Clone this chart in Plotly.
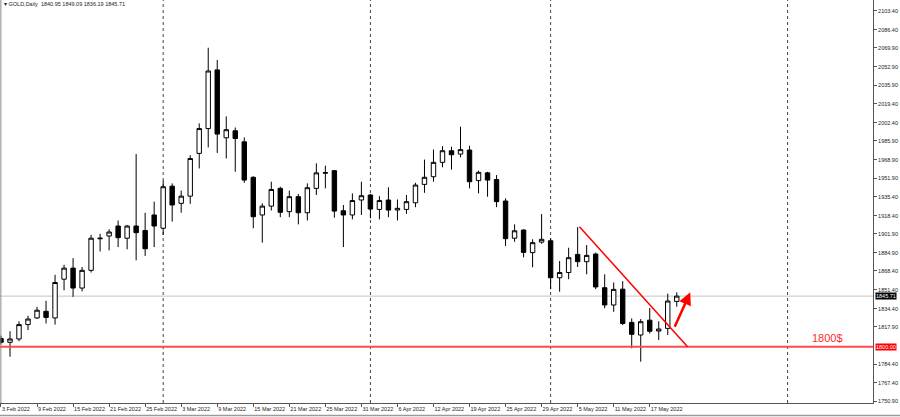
import plotly.graph_objects as go

# GOLD daily bars, 3 Feb 2022 - 20 May 2022 (one bar per trading day)
dates = ["2022-02-03", "2022-02-04", "2022-02-07", "2022-02-08", "2022-02-09", "2022-02-10",
         "2022-02-11", "2022-02-14", "2022-02-15", "2022-02-16", "2022-02-17", "2022-02-18",
         "2022-02-21", "2022-02-22", "2022-02-23", "2022-02-24", "2022-02-25", "2022-02-28",
         "2022-03-01", "2022-03-02", "2022-03-03", "2022-03-04", "2022-03-07", "2022-03-08",
         "2022-03-09", "2022-03-10", "2022-03-11", "2022-03-14", "2022-03-15", "2022-03-16",
         "2022-03-17", "2022-03-18", "2022-03-21", "2022-03-22", "2022-03-23", "2022-03-24",
         "2022-03-25", "2022-03-28", "2022-03-29", "2022-03-30", "2022-03-31",
         "2022-04-01", "2022-04-04", "2022-04-05", "2022-04-06", "2022-04-07", "2022-04-08",
         "2022-04-11", "2022-04-12", "2022-04-13", "2022-04-14", "2022-04-18", "2022-04-19",
         "2022-04-20", "2022-04-21", "2022-04-22", "2022-04-25", "2022-04-26", "2022-04-27",
         "2022-04-28", "2022-04-29",
         "2022-05-02", "2022-05-03", "2022-05-04", "2022-05-05", "2022-05-06", "2022-05-09",
         "2022-05-10", "2022-05-11", "2022-05-12", "2022-05-13", "2022-05-16", "2022-05-17",
         "2022-05-18", "2022-05-19", "2022-05-20"]

opens = [1807.5, 1804, 1807, 1820, 1826, 1832, 1826, 1861, 1871, 1853,
         1869, 1897.5, 1900, 1909, 1898, 1909, 1905, 1919, 1907, 1945,
         1929.5, 1936, 1974.6, 1997, 2050, 1988.7, 1995, 1985, 1953, 1919,
         1927, 1943, 1922, 1935.5, 1921, 1943, 1957.3, 1959, 1922.8, 1919,
         1932.5, 1937, 1924, 1932.5, 1923.5, 1924, 1930, 1946.6, 1953.5, 1966.5,
         1977, 1974, 1977.6, 1950, 1957, 1951, 1931.6, 1898, 1905.4, 1885,
         1894.5, 1895.7, 1862.3, 1867, 1883.4, 1876.8, 1883.7, 1853.3, 1837.7, 1852,
         1822, 1810.6, 1824, 1814.2, 1816.6, 1840.95]
highs = [1810, 1814, 1823, 1828, 1836, 1841.5, 1865, 1874, 1880, 1872,
         1901, 1902, 1906, 1914, 1910, 1974, 1921, 1931, 1950, 1947.5,
         1941, 1973, 2001.7, 2070, 2059, 2008, 1998, 1989, 1954, 1929.5,
         1949, 1944.5, 1941, 1938, 1947.5, 1965.6, 1963.5, 1959.6, 1928, 1938.5,
         1949, 1938, 1936, 1944, 1933, 1937, 1948, 1969, 1978, 1981,
         1980.6, 1998.7, 1981.5, 1959, 1958, 1955, 1934, 1910.5, 1906, 1897,
         1919.8, 1898, 1877.4, 1889.4, 1908, 1891.8, 1885, 1865.4, 1858, 1859.3,
         1825.6, 1825, 1835, 1823, 1848, 1849.09]
lows = [1802, 1791, 1805, 1815, 1825, 1821, 1820, 1851, 1845, 1850,
        1867, 1886, 1887, 1890, 1888, 1878, 1882, 1890, 1901, 1913,
        1921, 1929, 1961, 1980, 1975, 1970, 1958, 1948, 1907, 1894,
        1923, 1917, 1917, 1910.5, 1914, 1937, 1943, 1916.5, 1890, 1915,
        1919, 1916, 1915, 1917, 1914, 1920, 1926, 1939, 1949, 1962,
        1960, 1971, 1943, 1938.5, 1935.5, 1926, 1891, 1894.8, 1880.7, 1871.7,
        1893, 1852, 1849.7, 1861, 1872, 1865.4, 1852, 1834.7, 1831.6, 1819.6,
        1798.6, 1786.5, 1812, 1806, 1810.6, 1836.19]
closes = [1804, 1807, 1820, 1825, 1833, 1826.5, 1858, 1871, 1853, 1869,
          1898, 1898, 1903.6, 1898.5, 1909, 1903, 1888.5, 1909, 1944.5, 1928,
          1936, 1970, 1997, 2049, 1992, 1996, 1988, 1950.5, 1917.4, 1927,
          1942, 1921.4, 1935.5, 1921, 1943.6, 1957, 1956.8, 1922.5, 1919, 1932,
          1936.4, 1924.3, 1932, 1923.4, 1925, 1931, 1946, 1953, 1966.5, 1977,
          1973.4, 1978, 1949, 1957.5, 1950.5, 1931, 1897.6, 1904.7, 1885.2, 1894,
          1897, 1862.3, 1867, 1880.4, 1876.8, 1882.5, 1854, 1837.7, 1851.8, 1821,
          1811.2, 1822.6, 1814, 1816, 1841.3, 1845.71]

y_ticks = [2103.40, 2086.40, 2069.90, 2052.90, 2035.90, 2019.40, 2002.40, 1985.90,
           1968.90, 1951.90, 1935.40, 1918.40, 1901.90, 1884.90, 1868.40, 1851.40,
           1834.40, 1817.90, 1784.40, 1767.40, 1750.90]

separators = [18, 41, 61, 87.3]          # month separators (bar index)
support = 1800.00
last_price = 1845.71
trend_x = [64.2, 76.2]
trend_y = [1908.4, 1800.0]
arrow_x = [74.7, 76.5]
arrow_y = [1816.6, 1849.1]

MONTHS = ["Jan", "Feb", "Mar", "Apr", "May", "Jun"]
def fmt(d):
    y, m, dd = d.split("-")
    return f"{int(dd)} {MONTHS[int(m) - 1]} {y}"

idx = list(range(len(dates)))
tick_idx = idx[::4]
tick_txt = [fmt(dates[i]) for i in tick_idx]

FONT = "Liberation Sans"

fig = go.Figure()
fig.add_trace(go.Candlestick(
    x=idx, open=opens, high=highs, low=lows, close=closes,
    increasing=dict(line=dict(color="black", width=1), fillcolor="white"),
    decreasing=dict(line=dict(color="black", width=1), fillcolor="black"),
    whiskerwidth=0, hoverinfo="skip", showlegend=False,
))

shapes = []
for s in separators:
    shapes.append(dict(type="line", xref="x", yref="paper", x0=s, x1=s, y0=0, y1=1,
                       line=dict(color="#444444", width=1, dash="dot"), layer="below"))
shapes.append(dict(type="line", xref="paper", yref="y", x0=0, x1=1, y0=last_price, y1=last_price,
                   line=dict(color="#c4c4c4", width=1), layer="below"))
shapes.append(dict(type="line", xref="paper", yref="y", x0=0, x1=1, y0=support, y1=support,
                   line=dict(color="#ff4b4b", width=2)))
shapes.append(dict(type="line", xref="x", yref="y", x0=trend_x[0], x1=trend_x[1],
                   y0=trend_y[0], y1=trend_y[1], line=dict(color="#ff0000", width=1.5)))
shapes.append(dict(type="line", xref="paper", yref="paper", x0=0.001, x1=0.001, y0=0, y1=1,
                   line=dict(color="#888888", width=1)))
shapes.append(dict(type="line", xref="paper", yref="paper", x0=0, x1=1.04, y0=-0.031, y1=-0.031,
                   line=dict(color="#9a9a9a", width=1.5)))

annotations = [
    dict(x=arrow_x[1], y=arrow_y[1], ax=arrow_x[0], ay=arrow_y[0], xref="x", yref="y",
         axref="x", ayref="y", showarrow=True, arrowhead=2, arrowsize=1, arrowwidth=2.5,
         arrowcolor="#ff0000", text=""),
    dict(x=91.7, y=support, xref="x", yref="y", text="1800$", showarrow=False,
         yanchor="bottom", yshift=1, font=dict(family=FONT, size=11, color="#ff2a2a")),
    dict(x=1, y=support, xref="paper", yref="y", text="1800.00", showarrow=False,
         xanchor="left", xshift=2, bgcolor="#ff0000", borderpad=0,
         font=dict(family=FONT, size=5.5, color="white")),
    dict(x=1, y=last_price, xref="paper", yref="y", text="1845.71", showarrow=False,
         xanchor="left", xshift=2, bgcolor="black", borderpad=0,
         font=dict(family=FONT, size=5.5, color="white")),
    dict(x=0, y=1, xref="paper", yref="paper", xanchor="left", yanchor="top",
         xshift=2, yshift=1, showarrow=False,
         text="▾ GOLD,Daily  1840.95 1849.09 1836.19 1845.71",
         font=dict(family=FONT, size=5.5, color="#222222")),
]

fig.update_layout(
    width=900, height=417,
    margin=dict(l=0, r=27, t=0, b=14, autoexpand=False),
    paper_bgcolor="white", plot_bgcolor="white",
    shapes=shapes, annotations=annotations,
    xaxis=dict(range=[-0.11, 96.78], tickvals=tick_idx, ticktext=tick_txt,
               ticks="outside", ticklen=3, tickcolor="#555555", tickangle=0,
               ticklabelposition="outside right", automargin=False,
               tickfont=dict(family=FONT, size=5.5, color="#222222"),
               showgrid=False, zeroline=False, showline=True, linecolor="#555555",
               rangeslider=dict(visible=False), fixedrange=True),
    yaxis=dict(side="right", range=[1749.2, 2113.1], tickvals=y_ticks,
               ticktext=[f"{v:.2f}" for v in y_ticks], automargin=False,
               ticks="outside", ticklen=3, tickcolor="#555555",
               tickfont=dict(family=FONT, size=5.5, color="#222222"),
               showgrid=False, zeroline=False, showline=True, linecolor="#555555"),
)

# the page body has a default 8px margin; drop it so the chart fills the window
fig.write_html("out.html", config={"displayModeBar": False},
               post_script="document.body.style.margin='0';")
